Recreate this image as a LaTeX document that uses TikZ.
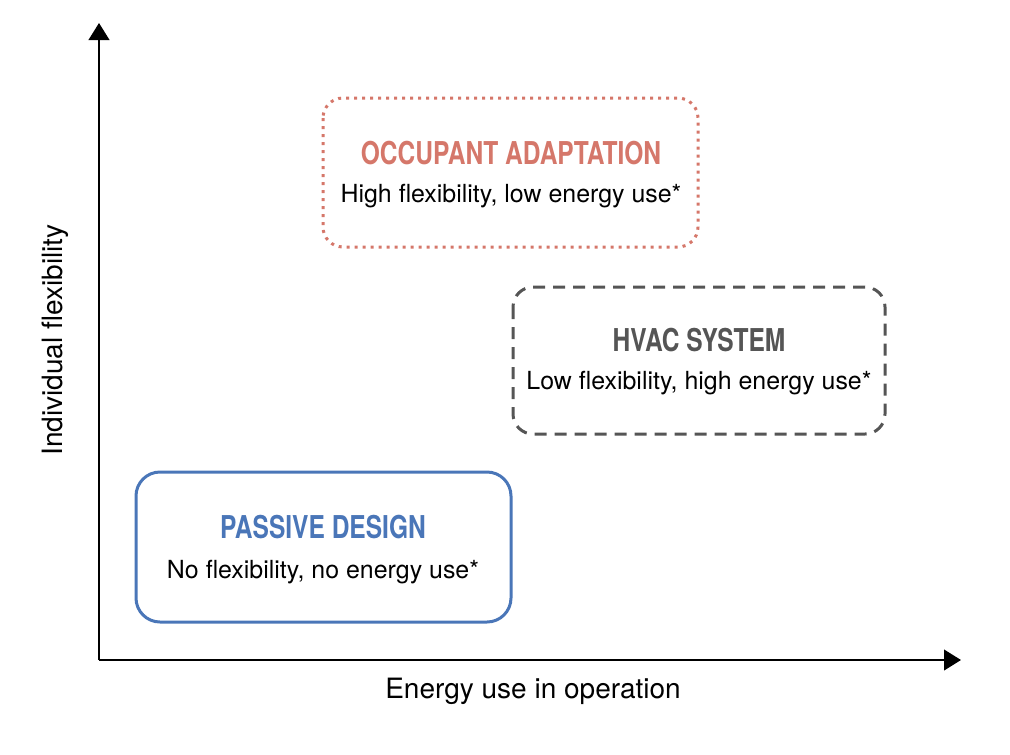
\documentclass[tikz,border=0pt]{standalone}
\usepackage{fontspec}
\setmainfont{TeX Gyre Heros}
\newfontfamily\condbold[FakeStretch=0.78]{TeX Gyre Heros Bold}
\usetikzlibrary{arrows.meta}
\definecolor{occred}{HTML}{D5776A}
\definecolor{hvacgrey}{HTML}{555555}
\definecolor{passblue}{HTML}{4A76B8}
\tikzset{
  axisline/.style={line width=1.5pt,-{Triangle[length=12.75pt,width=15.5pt]}},
  boxtitle/.style={font=\condbold\fontsize{23.6}{28}\selectfont},
  boxtext/.style={font=\fontsize{18.7}{22}\selectfont,text=black},
  axislabel/.style={font=\fontsize{21}{24}\selectfont,text=black},
}
\begin{document}
\begin{tikzpicture}[x=0.75pt,y=-0.75pt]
\useasboundingbox (0,0) rectangle (1010,754);
\coordinate (O) at (99,660);
\coordinate (ytip) at (99,23);
\coordinate (xtip) at (961,660);
\draw[axisline] (O) -- (ytip);
\draw[axisline] (O) -- (xtip);
\node[axislabel] (xlab) at (533,691) {Energy use in operation};
\node[axislabel,rotate=90] (ylab) at (55,340) {Individual flexibility};
% occupant
\draw[occred,line width=2.25pt,rounded corners=15pt,dash pattern=on 2.25pt off 3.75pt] (323,98) rectangle (698,247);
\node[boxtitle,text=occred] (occt) at (511,153) {OCCUPANT ADAPTATION};
\node[boxtext] (occb) at (511,196) {High flexibility, low energy use*};
% hvac
\draw[hvacgrey,line width=2.25pt,rounded corners=15pt,dash pattern=on 9pt off 6pt] (513,287) rectangle (885,434);
\node[boxtitle,text=hvacgrey] (hvt) at (699,340) {HVAC SYSTEM};
\node[boxtext] (hvb) at (699,383) {Low flexibility, high energy use*};
% passive
\draw[passblue,line width=2.25pt,rounded corners=18pt] (136,472) rectangle (511,622);
\node[boxtitle,text=passblue] (pat) at (323,527) {PASSIVE DESIGN};
\node[boxtext] (pab) at (323,572) {No flexibility, no energy use*};
\end{tikzpicture}
\end{document}
